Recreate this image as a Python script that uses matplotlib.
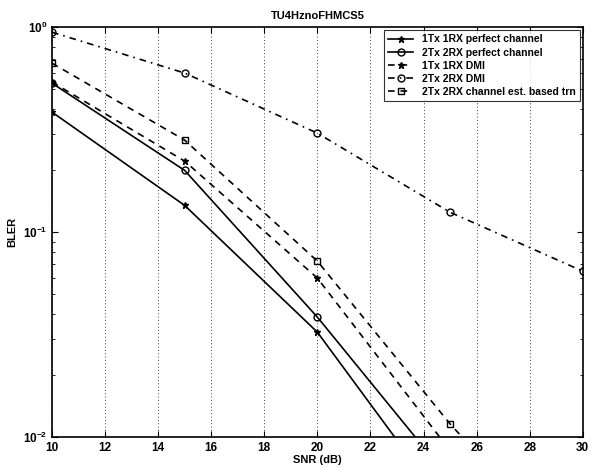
import matplotlib
matplotlib.use('Agg')
import matplotlib.pyplot as plt
from matplotlib.ticker import LogLocator, NullFormatter

plt.rcParams['font.family'] = ['Liberation Sans', 'DejaVu Sans']
plt.rcParams['font.weight'] = 'bold'
plt.rcParams['axes.labelweight'] = 'bold'
plt.rcParams['axes.titleweight'] = 'bold'

# SNR points (dB)
snr = [10, 15, 20, 25]
snr_dmi2 = [10, 15, 20, 25, 30]
snr_trn = [10, 15, 20, 25, 30]

# BLER
bler_1x1_perfect = [0.385, 0.135, 0.0325, 0.0043]
bler_2x2_perfect = [0.533, 0.200, 0.0385, 0.0062]
bler_1x1_dmi = [0.540, 0.222, 0.0597, 0.0086]
bler_2x2_dmi = [0.945, 0.597, 0.304, 0.125, 0.0645]
bler_2x2_trn = [0.667, 0.281, 0.0722, 0.0116, 0.0023]

labels = ['1Tx 1RX perfect channel', '2Tx 2RX perfect channel',
          '1Tx 1RX DMI', '2Tx 2RX DMI', '2Tx 2RX channel est. based trn']

fig = plt.figure(figsize=(5.91, 4.68), dpi=100)
ax = fig.add_axes([0.088, 0.066, 0.898, 0.876])

kw = dict(color='black', lw=1.2, ms=5)
ax.semilogy(snr, bler_1x1_perfect, '-*', label=labels[0], **kw)
ax.semilogy(snr, bler_2x2_perfect, '-o', mfc='none', label=labels[1], **kw)
ax.semilogy(snr, bler_1x1_dmi, '*', ls=(0, (4, 3.5)), label=labels[2], **kw)
ax.semilogy(snr_dmi2, bler_2x2_dmi, 'o', ls=(0, (4, 3, 1, 3)), mfc='none', label=labels[3], **kw)
ax.semilogy(snr_trn, bler_2x2_trn, 's', ls=(0, (4, 3.5)), mfc='none', label=labels[4], **kw)

ax.set_xlim(10, 30)
ax.set_ylim(0.01, 1)
ax.set_xticks(range(10, 31, 2))
ax.yaxis.set_minor_locator(LogLocator(base=10, subs=range(2, 10)))
ax.yaxis.set_minor_formatter(NullFormatter())
ax.tick_params(which='both', direction='in', top=True, right=True, labelsize=8.5)
ax.tick_params(which='major', length=4)
ax.tick_params(which='minor', length=2)
ax.grid(True, axis='x', linestyle=(0, (1, 3)), color='black', lw=0.6)
for s in ax.spines.values():
    s.set_linewidth(1.2)

ax.set_xlabel('SNR (dB)', fontsize=8, labelpad=1)
ax.set_ylabel('BLER', fontsize=8)
ax.set_title('TU4HznoFHMCS5', fontsize=8, pad=6)

leg = ax.legend(loc='upper right', fontsize=7.5, fancybox=False, edgecolor='black',
                handlelength=2.4, borderaxespad=0.3, labelspacing=0.3)
leg.get_frame().set_linewidth(0.8)

fig.savefig('out.png', dpi=100)
